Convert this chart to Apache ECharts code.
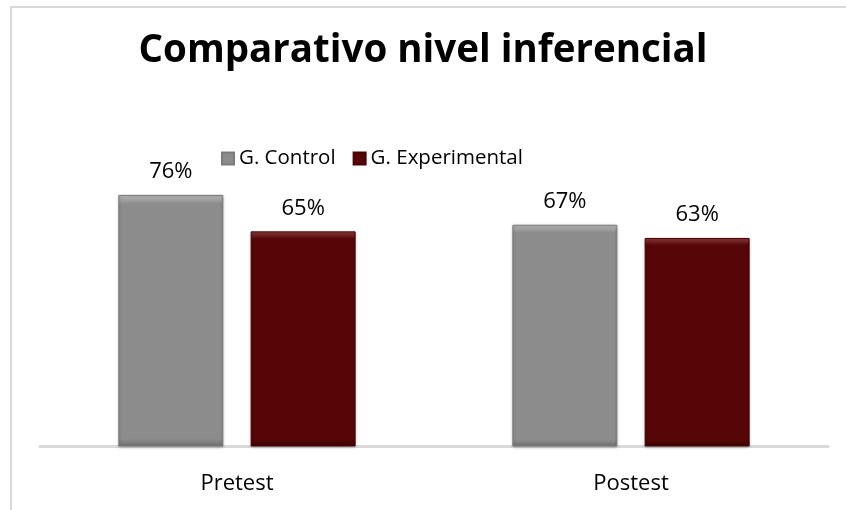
<!DOCTYPE html>
<html><head><meta charset="utf-8">
<script src="https://cdn.jsdelivr.net/npm/echarts@6/dist/echarts.min.js"></script>
<style>html,body{margin:0;padding:0;background:#fff}#c{width:846px;height:510px}</style>
</head><body><div id="c"></div>
<script>
const categories = ['Pretest', 'Postest'];
const controlValues = [0.76, 0.67];
const experimentalValues = [0.65, 0.63];
const seriesNames = ['G. Control', 'G. Experimental'];

const chart = echarts.init(document.getElementById('c'), null, {renderer: 'canvas'});
const font = '"Open Sans", "Noto Sans", sans-serif';
function bevel(base, light, dark) {
  return {
    type: 'linear', x: 0, y: 0, x2: 0, y2: 1,
    colorStops: [
      {offset: 0, color: light}, {offset: 0.035, color: base},
      {offset: 0.97, color: base}, {offset: 1, color: dark}
    ]
  };
}
const labelCfg = {
  show: true, position: 'top', distance: 12,
  formatter: p => Math.round(p.value * 100) + '%',
  fontFamily: font, fontSize: 22, color: '#000'
};
chart.setOption({
  animation: false,
  title: {
    text: 'Comparativo nivel inferencial', left: 'center', top: 27,
    textStyle: {fontFamily: font, fontWeight: 'bold', fontSize: 38.5, color: '#000'}
  },
  legend: {
    top: 143, left: 216, itemWidth: 12, itemHeight: 12, itemGap: 17,
    icon: 'rect',
    textStyle: {fontFamily: font, fontSize: 20.5, color: '#000'},
    data: seriesNames
  },
  graphic: [{
    type: 'rect', shape: {x: 11, y: 7, width: 900, height: 600},
    style: {fill: 'none', stroke: '#d9d9d9', lineWidth: 2}, silent: true
  }],
  grid: {left: 40, right: 18, top: 115.5, bottom: 63.5},
  xAxis: {
    type: 'category', data: categories,
    axisLine: {lineStyle: {color: '#d9d9d9', width: 3}},
    axisTick: {show: false},
    axisLabel: {fontFamily: font, fontSize: 22, color: '#000', margin: 26}
  },
  yAxis: {
    type: 'value', min: 0, max: 1, interval: 0.2,
    show: false, splitLine: {show: false}
  },
  series: [
    {
      name: seriesNames[0], type: 'bar', data: controlValues,
      barWidth: 105, barGap: '26%',
      itemStyle: {color: bevel('#8c8c8c', '#bdbdbd', '#6e6e6e'), borderColor: '#7a7a7a', borderWidth: 1,
        shadowColor: 'rgba(0,0,0,0.25)', shadowBlur: 3, shadowOffsetY: 1},
      label: labelCfg
    },
    {
      name: seriesNames[1], type: 'bar', data: experimentalValues,
      barWidth: 105, barGap: '26%',
      itemStyle: {color: bevel('#560606', '#8e4040', '#3a0202'), borderColor: '#4a0404', borderWidth: 1,
        shadowColor: 'rgba(0,0,0,0.25)', shadowBlur: 3, shadowOffsetY: 1},
      label: labelCfg
    }
  ]
});
</script></body></html>
